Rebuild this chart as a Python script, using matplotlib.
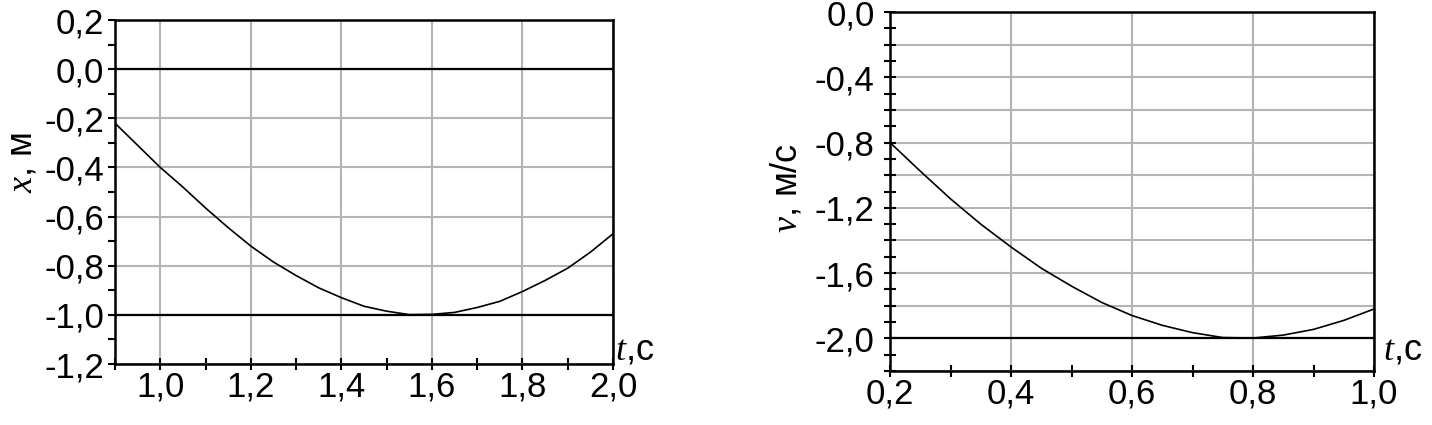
import matplotlib
matplotlib.use("Agg")
import matplotlib.pyplot as plt
from matplotlib.ticker import MultipleLocator, FuncFormatter

plt.rcParams['font.family'] = ['Liberation Sans', 'DejaVu Sans']
plt.rcParams['mathtext.fontset'] = 'custom'
plt.rcParams['mathtext.it'] = 'Liberation Serif:italic'
plt.rcParams['mathtext.rm'] = 'Liberation Sans'

# --------- data ---------
t_x = [0.90, 0.95, 1.00, 1.05, 1.10, 1.15, 1.20, 1.25, 1.30, 1.35, 1.40, 1.45,
       1.50, 1.55, 1.60, 1.65, 1.70, 1.75, 1.80, 1.85, 1.90, 1.95, 2.00]
x_vals = [-0.22, -0.31, -0.40, -0.48, -0.565, -0.645, -0.72, -0.785, -0.84, -0.89, -0.93, -0.965,
          -0.985, -0.999, -0.998, -0.99, -0.97, -0.945, -0.905, -0.86, -0.81, -0.745, -0.67]

t_v = [0.20, 0.25, 0.30, 0.35, 0.40, 0.45, 0.50, 0.55, 0.60, 0.65, 0.70, 0.75,
       0.80, 0.85, 0.90, 0.95, 1.00]
v_vals = [-0.80, -0.975, -1.145, -1.30, -1.44, -1.57, -1.68, -1.78, -1.86, -1.92, -1.965, -1.995,
          -1.998, -1.98, -1.945, -1.89, -1.82]

x_ref_lines = [0.0, -1.0]
v_ref_lines = [-2.0]

FS = 25
GRID = '#b4b4b4'


def comma(v, pos):
    return ('%.1f' % v).replace('.', ',').replace('-0,0', '0,0')


def comma04(v, pos):
    k = round(v / 0.2)
    if k % 2:
        return ''
    return comma(v, pos)


fig = plt.figure(figsize=(14.32, 4.25), dpi=100)

# --------- left: x(t) ---------
ax1 = fig.add_axes([115/1432, 1-364/425, (613-115)/1432, (364-20)/425])
ax1.set_xlim(0.9, 2.0)
ax1.set_ylim(-1.2, 0.2)
ax1.xaxis.set_major_locator(MultipleLocator(0.2))
ax1.xaxis.set_minor_locator(MultipleLocator(0.1))
ax1.yaxis.set_major_locator(MultipleLocator(0.2))
ax1.yaxis.set_minor_locator(MultipleLocator(0.1))
ax1.xaxis.set_major_formatter(FuncFormatter(comma))
ax1.yaxis.set_major_formatter(FuncFormatter(comma))
ax1.grid(True, which='major', color=GRID, lw=1.5)
for yv in x_ref_lines:
    ax1.axhline(yv, color='black', lw=1.6)
ax1.plot(t_x, x_vals, color='black', lw=1.2)
ax1.tick_params(axis='x', which='both', direction='inout', length=8, width=1.5, labelsize=FS, pad=1)
ax1.tick_params(axis='y', which='both', direction='out', length=5, width=1.5, labelsize=FS, pad=3)

# --------- right: v(t) ---------
ax2 = fig.add_axes([890/1432, 1-371/425, (1374-890)/1432, (371-12)/425])
ax2.set_xlim(0.2, 1.0)
ax2.set_ylim(-2.2, 0.0)
ax2.xaxis.set_major_locator(MultipleLocator(0.2))
ax2.xaxis.set_minor_locator(MultipleLocator(0.1))
ax2.yaxis.set_major_locator(MultipleLocator(0.2))
ax2.yaxis.set_minor_locator(MultipleLocator(0.1))
ax2.xaxis.set_major_formatter(FuncFormatter(comma))
ax2.yaxis.set_major_formatter(FuncFormatter(comma04))
ax2.grid(True, which='major', color=GRID, lw=1.5)
for yv in v_ref_lines:
    ax2.axhline(yv, color='black', lw=1.6)
ax2.plot(t_v, v_vals, color='black', lw=1.2)
ax2.tick_params(axis='x', which='both', direction='inout', length=8, width=1.5, labelsize=FS, pad=1)
ax2.tick_params(axis='y', which='both', direction='inout', length=8, width=1.5, labelsize=FS, pad=7)

for ax in (ax1, ax2):
    for s in ax.spines.values():
        s.set_linewidth(1.8)
        s.set_zorder(5)

# axis titles
fig.text(22/1432, 1-163/425, r'$x$, м', rotation=90, ha='center', va='center', fontsize=26)
fig.text(787/1432, 1-188/425, r'$v$, м/с', rotation=90, ha='center', va='center', fontsize=26)
fig.text(615/1432, 1-350/425, r'$t$,с', ha='left', va='center', fontsize=26)
fig.text(1383/1432, 1-350/425, r'$t$,с', ha='left', va='center', fontsize=26)

fig.savefig('out.png', dpi=100)
